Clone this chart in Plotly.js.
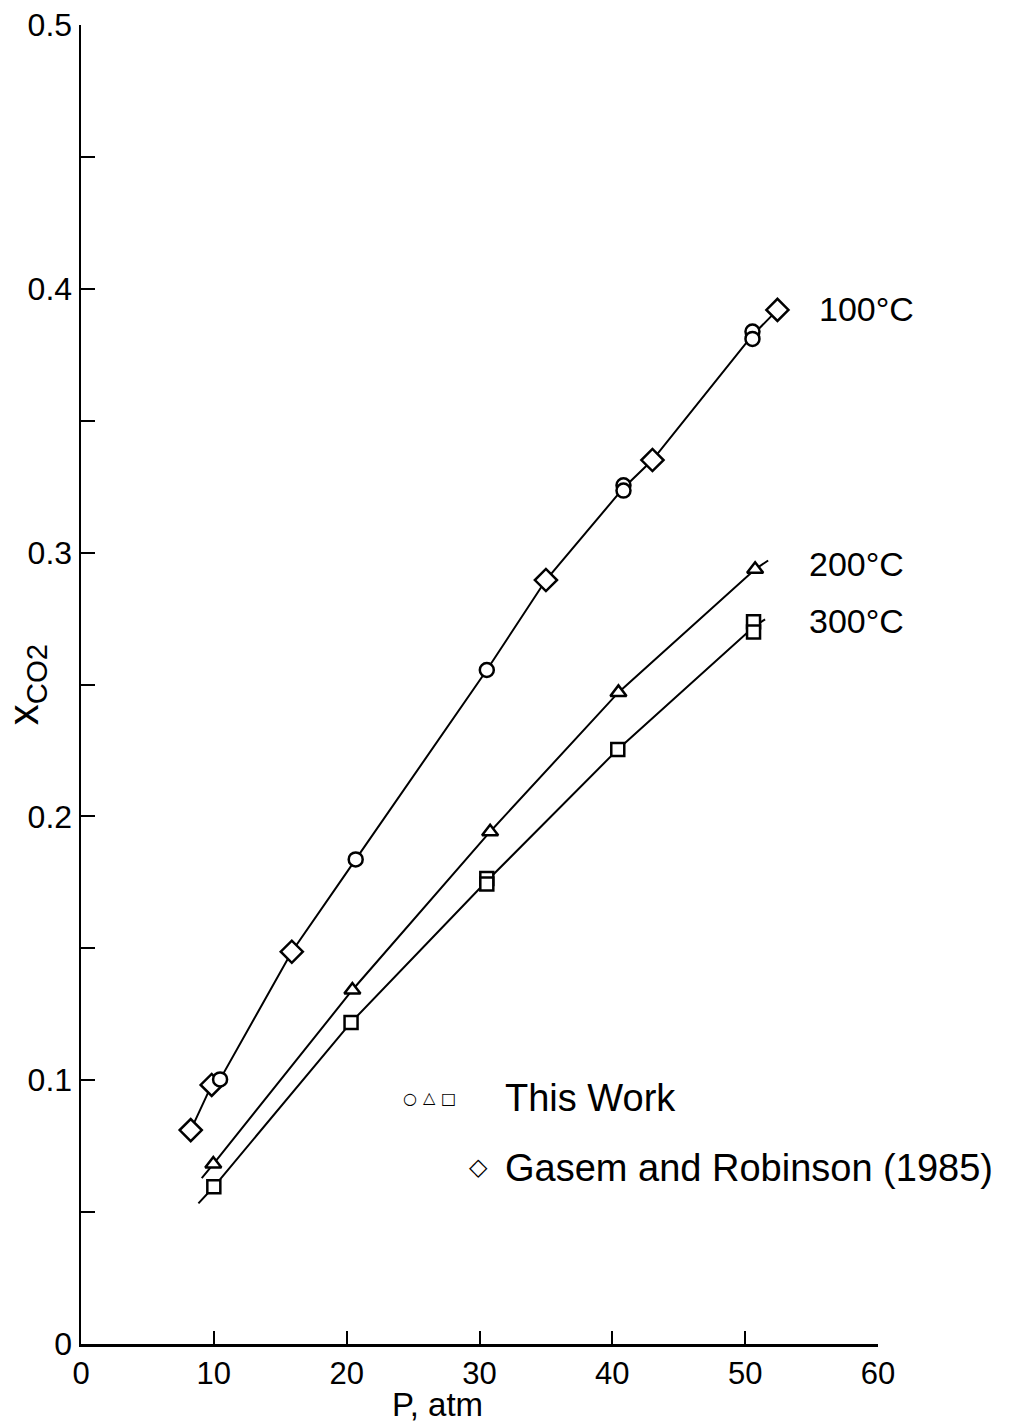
<!DOCTYPE html>
<html>
<head>
<meta charset="utf-8">
<script src="https://cdn.plot.ly/plotly-3.0.1.min.js"></script>
<style>html,body{margin:0;padding:0;background:#fff;}#chart{width:1016px;height:1423px;}</style>
</head>
<body>
<div id="chart"></div>
<script>
// ---- data ----
// 100 °C, this work (circles)
const p100 = [10.47, 20.68, 30.55, 40.84, 40.84, 50.55, 50.55];
const x100 = [0.1003, 0.1837, 0.2555, 0.3255, 0.3235, 0.3838, 0.3810];
// 100 °C, Gasem and Robinson (1985) (diamonds)
const pGR = [8.26, 9.84, 15.87, 35.0, 43.02, 52.43];
const xGR = [0.0811, 0.0982, 0.1487, 0.2896, 0.3351, 0.3920];
// 200 °C, this work (triangles)
const p200 = [9.96, 20.43, 30.8, 40.46, 50.75];
const x200 = [0.0682, 0.1342, 0.1942, 0.2470, 0.2937];
// 300 °C, this work (squares)
const p300 = [10.0, 20.33, 30.55, 30.55, 40.41, 50.63, 50.63];
const x300 = [0.0596, 0.1219, 0.1765, 0.1744, 0.2254, 0.2738, 0.2699];
// drawn curves
const line100P = [8.26, 9.84, 10.47, 15.87, 20.68, 30.55, 35.0, 40.84, 43.02, 50.55, 52.43];
const line100X = [0.0811, 0.0982, 0.1003, 0.1487, 0.1837, 0.2555, 0.2896, 0.3245, 0.3351, 0.3824, 0.3920];
const line200P = [9.09, 9.96, 20.43, 30.8, 40.46, 50.75, 51.73];
const line200X = [0.0629, 0.0682, 0.1342, 0.1942, 0.2470, 0.2937, 0.2970];
const line300P = [8.84, 10.0, 20.33, 30.55, 40.41, 50.63, 51.5];
const line300X = [0.0533, 0.0596, 0.1219, 0.1755, 0.2254, 0.2718, 0.2747];
// axes
const xTickVals = [0, 10, 20, 30, 40, 50, 60];
const xTickText = ['0', '10', '20', '30', '40', '50', '60'];
const yTickVals = [0, 0.1, 0.2, 0.3, 0.4, 0.5];
const yTickText = ['0', '0.1', '0.2', '0.3', '0.4', '0.5'];
// labels
const curveLabels = ['100\u00b0C', '200\u00b0C', '300\u00b0C'];
const curveLabelP = [59.1, 58.4, 58.4];
const curveLabelX = [0.3925, 0.2955, 0.274];
const legendSymbols = ['\u25cb', '\u25b3', '\u25a1', '\u25c7'];
const legendTexts = ['This Work', 'Gasem and Robinson (1985)'];

const FONT = '"Liberation Sans", Arial, sans-serif';
const SYMFONT = '"DejaVu Sans", sans-serif';

function lineTrace(x, y) {
  return {x: x, y: y, mode: 'lines', type: 'scatter', line: {color: '#000', width: 2}, hoverinfo: 'skip', showlegend: false};
}
function markerTrace(x, y, sym, size) {
  return {x: x, y: y, mode: 'markers', type: 'scatter', showlegend: false,
    marker: {symbol: sym, size: size, color: '#fff', line: {color: '#000', width: 2.5}}};
}

const data = [
  lineTrace(line100P, line100X),
  lineTrace(line200P, line200X),
  lineTrace(line300P, line300X),
  markerTrace(pGR, xGR, 'diamond', 17),
  markerTrace(p100, x100, 'circle', 14),
  markerTrace(p200, x200, 'triangle-up', 14),
  markerTrace(p300, x300, 'square', 13)
];

const L = 81, T = 25, W = 797, H = 1319;
function px(x) { return (x - L) / W; }
function py(y) { return 1 - (y - T) / H; }

const annotations = curveLabels.map((t, i) => ({
  x: curveLabelP[i], y: curveLabelX[i], xref: 'x', yref: 'y', text: t, showarrow: false,
  font: {family: FONT, size: 34, color: '#000'}, xanchor: 'center', yanchor: 'middle'
}));
// legend block (pixel placed, converted to paper coords)
const legendItems = [
  {x: 410, y: 1098, text: legendSymbols[0], size: 16, fam: SYMFONT, anchor: 'center'},
  {x: 429, y: 1097, text: legendSymbols[1], size: 16, fam: SYMFONT, anchor: 'center'},
  {x: 448, y: 1098, text: legendSymbols[2], size: 16, fam: SYMFONT, anchor: 'center'},
  {x: 478, y: 1167, text: legendSymbols[3], size: 24, fam: SYMFONT, anchor: 'center'},
  {x: 503, y: 1098, text: legendTexts[0], size: 38, fam: FONT, anchor: 'left'},
  {x: 503, y: 1168, text: legendTexts[1], size: 38, fam: FONT, anchor: 'left'},
  {x: 437, y: 1404, text: 'P, atm', size: 33, fam: FONT, anchor: 'center'}
];
legendItems.forEach(it => annotations.push({
  x: px(it.x), y: py(it.y), xref: 'paper', yref: 'paper', text: it.text, showarrow: false,
  font: {family: it.fam, size: it.size, color: '#000'}, xanchor: it.anchor, yanchor: 'middle'
}));

const layout = {
  width: 1016, height: 1423,
  margin: {l: L, r: 1016 - L - W, t: T, b: 1423 - T - H},
  paper_bgcolor: '#fff', plot_bgcolor: '#fff',
  showlegend: false,
  font: {family: FONT, color: '#000'},
  xaxis: {
    range: [0, 60], tickmode: 'array', tickvals: xTickVals, ticktext: xTickText,
    ticks: 'inside', ticklen: 13, tickwidth: 2, tickcolor: '#000',
    showline: true, linewidth: 2.5, linecolor: '#000', showgrid: false, zeroline: false,
    tickfont: {family: FONT, size: 31, color: '#000'}
  },
  yaxis: {
    range: [0, 0.5], tickmode: 'array', tickvals: yTickVals, ticktext: yTickText,
    ticks: 'inside', ticklen: 14, tickwidth: 2, tickcolor: '#000',
    minor: {dtick: 0.05, ticks: 'inside', ticklen: 14, tickwidth: 2, tickcolor: '#000', showgrid: false},
    showline: true, linewidth: 2.5, linecolor: '#000', showgrid: false, zeroline: false,
    tickfont: {family: FONT, size: 32, color: '#000'},
    title: {text: 'x<sub>CO2</sub>', font: {family: FONT, size: 42, color: '#000'}, standoff: 6}
  },
  annotations: annotations
};

Plotly.newPlot('chart', data, layout, {displayModeBar: false, staticPlot: true});
</script>
</body>
</html>
